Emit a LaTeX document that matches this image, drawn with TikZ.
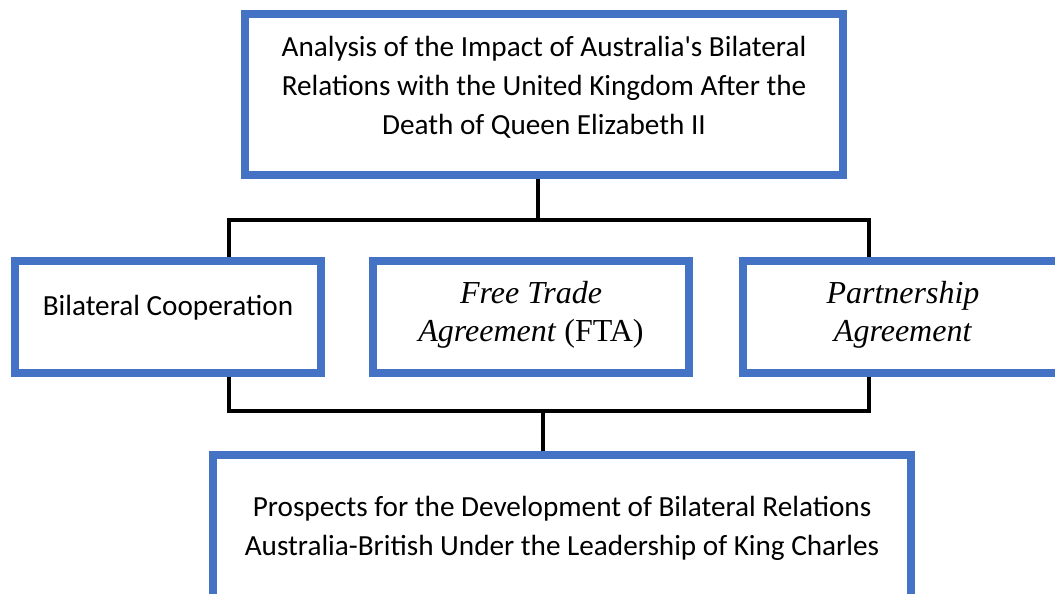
\documentclass[tikz,border=0pt]{standalone}
\usepackage{fontspec}
\setmainfont{Liberation Serif}
\newfontfamily\calibri{Carlito}
\usetikzlibrary{backgrounds}

\definecolor{boxblue}{HTML}{4472C4}

\tikzset{
	topicbox/.style={draw=boxblue, line width=3.9pt, fill=white, align=center, inner sep=0pt},
	sanstext/.style={font=\calibri\fontsize{14.6}{19.5}\selectfont},
	seriftext/.style={font=\fontsize{16}{19}\selectfont},
	link/.style={line width=2pt, line join=miter}
}

\begin{document}
\begin{tikzpicture}[x=0.5pt, y=-0.5pt]
		\useasboundingbox (0,0) rectangle (1055,594);
		
		% --- TOP: THE ANALYSIS ---
		\node[topicbox, sanstext, minimum width=299pt, minimum height=80.5pt, text height=48pt, text depth=8pt] (Analysis) at (544,94.5) {Analysis of the Impact of Australia's Bilateral\\Relations with the United Kingdom After the\\Death of Queen Elizabeth II};
		
		% --- MIDDLE ROW: THE THREE ASPECTS ---
		\node[topicbox, sanstext, minimum width=153pt, minimum height=56pt, text height=10pt, text depth=11.2pt] (Cooperation) at (168,317) {Bilateral Cooperation};
		\node[topicbox, seriftext, minimum width=158pt, minimum height=56pt, text height=32pt, text depth=8pt] (FTA) at (531,317) {\textit{Free Trade}\\\textit{Agreement} (FTA)};
		\node[topicbox, seriftext, minimum width=160pt, minimum height=56pt, text height=32pt, text depth=8pt] (Partnership) at (903,317) {\textit{Partnership}\\\textit{Agreement}};
		
		% --- BOTTOM: THE PROSPECTS ---
		\node[topicbox, sanstext, minimum width=349pt, minimum height=72.5pt, text height=36pt, text depth=8pt] (Prospects) at (562,527.5) {Prospects for the Development of Bilateral Relations\\Australia-British Under the Leadership of King Charles};
		
		% Junction points of the bracket lines
		\coordinate (Split) at (538,219.5);
		\coordinate (UpperLeft) at (229,219.5);
		\coordinate (UpperRight) at (869,219.5);
		\coordinate (LowerLeft) at (229,411);
		\coordinate (LowerRight) at (869,411);
		\coordinate (Join) at (543,411);
		
		% --- CONNECTORS (behind the boxes) ---
		\begin{scope}[on background layer]
			\draw[link] (Analysis.south -| Split) -- (Split);
			\draw[link] (Cooperation.north -| UpperLeft) -- (UpperLeft) -- (UpperRight) -- (Partnership.north -| UpperRight);
			\draw[link] (Cooperation.south -| LowerLeft) -- (LowerLeft) -- (LowerRight) -- (Partnership.south -| LowerRight);
			\draw[link] (Join) -- (Join |- Prospects.north);
		\end{scope}
		
\end{tikzpicture}
\end{document}
